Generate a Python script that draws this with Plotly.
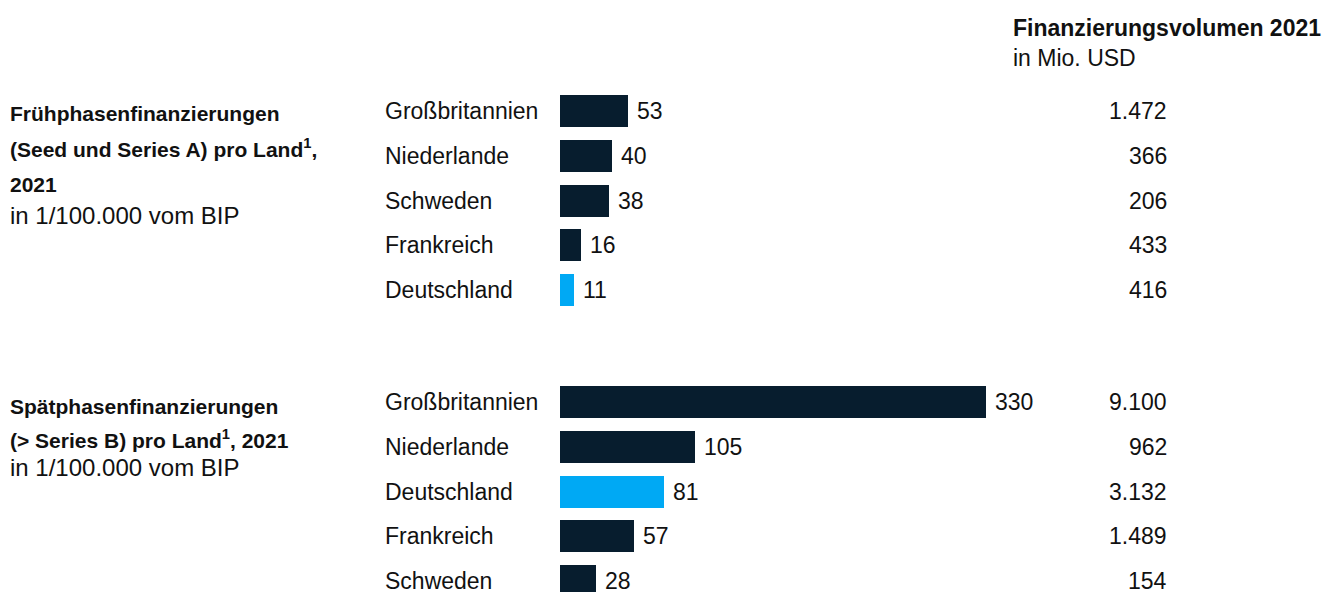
import plotly.graph_objects as go

# ---- data ----
early_countries = ["Großbritannien", "Niederlande", "Schweden", "Frankreich", "Deutschland"]
early_values = [53, 40, 38, 16, 11]
early_volume = ["1.472", "366", "206", "433", "416"]

late_countries = ["Großbritannien", "Niederlande", "Deutschland", "Frankreich", "Schweden"]
late_values = [330, 105, 81, 57, 28]
late_volume = ["9.100", "962", "3.132", "1.489", "154"]

highlight = "Deutschland"

early_title = ["Frühphasenfinanzierungen", "(Seed und Series A) pro Land<sup>1</sup>,", "2021"]
late_title = ["Spätphasenfinanzierungen", "(> Series B) pro Land<sup>1</sup>, 2021"]
unit_text = "in 1/100.000 vom BIP"
header_title = "Finanzierungsvolumen 2021"
header_unit = "in Mio. USD"

# ---- style / layout ----
W, H = 1333, 592
OFF = 8          # page body margin
PAD = 2          # annotation inner padding
NAVY = "#071d2e"
BLUE = "#00a9f4"
TXT = "#111111"
FONT = "Liberation Sans, Arial, sans-serif"
FS = 23          # regular text
FS_SUB = 24      # unit subtitles
FS_B = 21        # bold panel titles
FS_H = 23        # bold header
ROW = 44.8
BAR_PX = 32
PX_PER_UNIT = 1.29
BAR_X0 = 560

def py(px):
    return 1 - (px - OFF) / H

def pxx(px):
    return (px - OFF) / W

fig = go.Figure()

panels = [
    dict(countries=early_countries, values=early_values, vol=early_volume,
         yaxis="y", first_px=111, dom_px=(80, 322)),
    dict(countries=late_countries, values=late_values, vol=late_volume,
         yaxis="y2", first_px=402, dom_px=(370, 600)),
]

annotations = []
for p in panels:
    colors = [BLUE if c == highlight else NAVY for c in p["countries"]]
    fig.add_trace(go.Bar(
        y=p["countries"], x=p["values"], orientation="h",
        marker=dict(color=colors, line=dict(width=0)),
        width=BAR_PX / ROW, yaxis=p["yaxis"], xaxis="x",
        hoverinfo="skip", showlegend=False,
    ))
    yref = p["yaxis"]
    for c, v, vol in zip(p["countries"], p["values"], p["vol"]):
        annotations.append(dict(x=pxx(385 - PAD), xref="paper", y=c, yref=yref,
                                text=c, showarrow=False, xanchor="left", yanchor="middle",
                                font=dict(size=FS, color=TXT, family=FONT)))
        annotations.append(dict(x=v, xref="x", y=c, yref=yref, text=str(v), showarrow=False,
                                xanchor="left", yanchor="middle", xshift=7,
                                font=dict(size=FS, color=TXT, family=FONT)))
        annotations.append(dict(x=pxx(1167 + PAD), xref="paper", y=c, yref=yref,
                                text=vol, showarrow=False, xanchor="right", yanchor="middle",
                                font=dict(size=FS, color=TXT, family=FONT)))

def y_axis(p):
    top, bot = p["dom_px"]
    idx_top = -(p["first_px"] - top) / ROW
    idx_bot = (bot - p["first_px"]) / ROW
    return dict(domain=[py(bot), py(top)],
                range=[idx_bot, idx_top], type="category",
                showticklabels=False, showgrid=False, zeroline=False,
                showline=False, ticks="", fixedrange=True, anchor="x")

def add_lines(lines, ys, bold, size):
    for t, ypx in zip(lines, ys):
        annotations.append(dict(x=pxx(10 - PAD), xref="paper", y=py(ypx), yref="paper",
                                text=f"<b>{t}</b>" if bold else t, showarrow=False,
                                xanchor="left", yanchor="middle",
                                font=dict(size=size, color=TXT, family=FONT)))

add_lines(early_title, [113, 148, 184], True, FS_B)
add_lines([unit_text], [216], False, FS_SUB)
add_lines(late_title, [406, 439], True, FS_B)
add_lines([unit_text], [467], False, FS_SUB)

annotations.append(dict(x=pxx(1013 - PAD), xref="paper", y=py(28), yref="paper",
                        text=f"<b>{header_title}</b>", showarrow=False, xanchor="left", yanchor="middle",
                        font=dict(size=FS_H, color=TXT, family=FONT)))
annotations.append(dict(x=pxx(1013 - PAD), xref="paper", y=py(58), yref="paper",
                        text=header_unit, showarrow=False, xanchor="left", yanchor="middle",
                        font=dict(size=FS, color=TXT, family=FONT)))

fig.update_layout(
    width=W, height=H,
    margin=dict(l=0, r=0, t=0, b=0),
    paper_bgcolor="white", plot_bgcolor="white",
    xaxis=dict(domain=[pxx(BAR_X0), 1], range=[0, (W + OFF - BAR_X0) / PX_PER_UNIT],
               showticklabels=False, showgrid=False, zeroline=False, showline=False,
               ticks="", fixedrange=True),
    yaxis=y_axis(panels[0]),
    yaxis2=y_axis(panels[1]),
    annotations=annotations,
    bargap=0,
    showlegend=False,
)

fig.write_html("out.html", config={"displayModeBar": False})
